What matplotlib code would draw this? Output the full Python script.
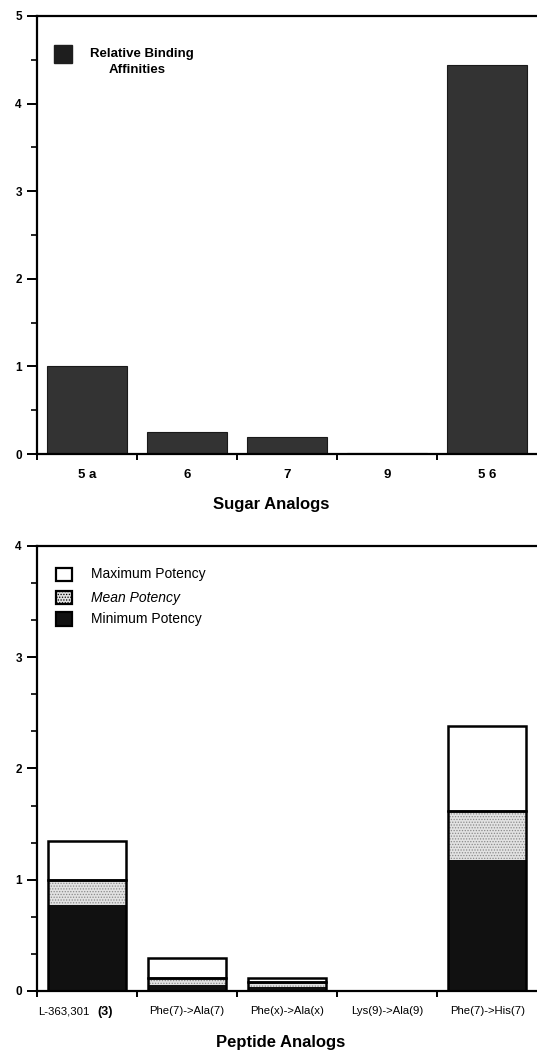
import numpy as np
import matplotlib
matplotlib.use("Agg")
import matplotlib.pyplot as plt
from matplotlib.ticker import MultipleLocator, FixedLocator
from matplotlib.patches import Rectangle

plt.rcParams['font.family'] = ['Liberation Sans', 'DejaVu Sans']
plt.rcParams['hatch.linewidth'] = 0.6

# --- data ---
sugar_labels = ['5 a', '6', '7', '9', '5 6']
sugar_affinity = [1.0, 0.25, 0.19, 0.01, 4.44]

peptide_labels = ['L-363,301', 'Phe(7)->Ala(7)', 'Phe(x)->Ala(x)', 'Lys(9)->Ala(9)', 'Phe(7)->His(7)']
pot_min = [0.77, 0.05, 0.04, 0.0, 1.18]
pot_mean = [1.00, 0.12, 0.08, 0.0, 1.62]
pot_max = [1.35, 0.30, 0.12, 0.0, 2.38]

fig = plt.figure(figsize=(5.37, 10.5), dpi=100)

def style_axes(ax, ymax, minor_step):
    ax.set_xlim(-0.5, 4.52)
    ax.set_ylim(0, ymax)
    for s in ['left', 'top', 'bottom']:
        ax.spines[s].set_linewidth(1.6)
    ax.spines['right'].set_visible(False)
    ax.yaxis.set_major_locator(MultipleLocator(1))
    ax.yaxis.set_minor_locator(MultipleLocator(minor_step))
    ax.xaxis.set_major_locator(FixedLocator(range(5)))
    ax.xaxis.set_minor_locator(FixedLocator([-0.5, 0.5, 1.5, 2.5, 3.5]))
    ax.tick_params(axis='y', which='major', direction='out', length=7, width=1.4, labelsize=8.5, pad=4)
    ax.tick_params(axis='y', which='minor', direction='out', length=4, width=1.2)
    ax.tick_params(axis='x', which='major', length=0, pad=11)
    ax.tick_params(axis='x', which='minor', direction='out', length=4, width=1.4)
    for t in ax.get_yticklabels():
        t.set_fontweight('bold')

# --- top: sugar analogs ---
ax1 = fig.add_axes([0.069, 0.5676, 0.935, 0.4172])
x = np.arange(len(sugar_labels))
ax1.bar(x, sugar_affinity, width=0.8, color='#333333', edgecolor='#1a1a1a', linewidth=0.8)
style_axes(ax1, 5, 0.5)
ax1.set_xticklabels(sugar_labels, fontsize=9.5, fontweight='bold')
fig.text(0.505, 1 - 504 / 1050, 'Sugar Analogs', fontsize=12, fontweight='bold',
         ha='center', va='center')
ax1.add_patch(Rectangle((0.033, 0.892), 0.036, 0.042, transform=ax1.transAxes,
                        facecolor='#1e1e1e', edgecolor='#1e1e1e'))
ax1.text(0.106, 0.913, 'Relative Binding', transform=ax1.transAxes, fontsize=9.5,
         fontweight='bold', va='center', ha='left')
ax1.text(0.143, 0.876, 'Affinities', transform=ax1.transAxes, fontsize=9.5,
         fontweight='bold', va='center', ha='left')

# --- bottom: peptide analogs ---
ax2 = fig.add_axes([0.069, 0.0562, 0.935, 0.4238])
x = np.arange(len(peptide_labels))
w = 0.78
seg_mean = np.array(pot_mean) - np.array(pot_min)
seg_max = np.array(pot_max) - np.array(pot_mean)
ax2.bar(x, pot_min, width=w, color='#111111', linewidth=0)
ax2.bar(x, seg_mean, bottom=pot_min, width=w, color='#e2e2e2', edgecolor='#8a8a8a',
        hatch='......', linewidth=0)
ax2.bar(x, seg_max, bottom=pot_mean, width=w, color='white', linewidth=0)
ax2.bar(x, seg_max, bottom=pot_mean, width=w, fill=False, edgecolor='black', linewidth=1.8)
ax2.bar(x, pot_mean, width=w, fill=False, edgecolor='black', linewidth=1.8)
style_axes(ax2, 4, 1 / 3)
ax2.set_xticklabels([''] + peptide_labels[1:], fontsize=8.2)
xt = ax2.get_xaxis_transform()
ax2.annotate(peptide_labels[0], xy=(-0.49, 0), xycoords=xt, xytext=(0, -11),
             textcoords='offset points', fontsize=8.2, ha='left', va='top')
ax2.annotate('(3)', xy=(0.1, 0), xycoords=xt, xytext=(0, -10.5),
             textcoords='offset points', fontsize=9, fontweight='bold', ha='left', va='top')
fig.text(0.522, 1 - 1043 / 1050, 'Peptide Analogs', fontsize=12, fontweight='bold',
         ha='center', va='center')

leg_y = [0.936, 0.884, 0.836]
leg_txt = ['Maximum Potency', 'Mean Potency', 'Minimum Potency']
leg_face = ['white', '#e2e2e2', '#111111']
for yy, tt, fc in zip(leg_y, leg_txt, leg_face):
    ax2.add_patch(Rectangle((0.038, yy - 0.015), 0.032, 0.03, transform=ax2.transAxes,
                            facecolor=fc, edgecolor='black', linewidth=1.6,
                            hatch='......' if fc == '#e2e2e2' else None))
    ax2.text(0.108, yy, tt, transform=ax2.transAxes, fontsize=10, va='center', ha='left',
             style='italic' if tt.startswith('Mean') else 'normal')

fig.savefig('out.png', dpi=100)
